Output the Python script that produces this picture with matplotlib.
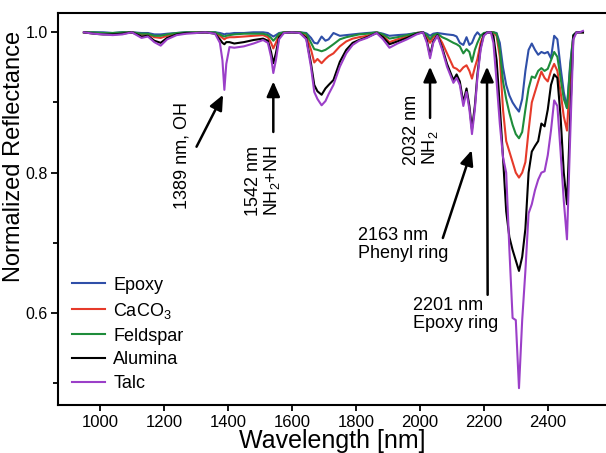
"""
NIR reflectance spectra of the epoxy composites (five fillers), normalised
to 1.0, with the main absorption bands annotated.
Output: out.png (606 x 453 px)
"""
import matplotlib
matplotlib.use("Agg")
import matplotlib.pyplot as plt
from matplotlib.ticker import MultipleLocator

# shared wavelength grid [nm]
wavelength = [
    950, 980, 1010, 1040, 1070, 1100, 1130, 1150, 1170, 1190,
    1210, 1240, 1270, 1300, 1330, 1360, 1375, 1383, 1389, 1395,
    1405, 1420, 1450, 1480, 1510, 1525, 1535, 1542, 1550, 1560,
    1575, 1600, 1625, 1645, 1660, 1670, 1680, 1693, 1705, 1715,
    1730, 1750, 1770, 1790, 1810, 1835, 1865, 1885, 1905, 1930,
    1960, 1990, 2010, 2022, 2032, 2042, 2055, 2070, 2085, 2105,
    2115, 2125, 2136, 2146, 2155, 2163, 2172, 2180, 2190, 2200,
    2212, 2222, 2230, 2240, 2250, 2260, 2270, 2280, 2290, 2300,
    2310, 2320, 2330, 2340, 2350, 2360, 2370, 2380, 2390, 2400,
    2410, 2420, 2430, 2440, 2450, 2460, 2470, 2480, 2490, 2500,
    2510,
]

epoxy = [
    1.000, 1.000, 1.000, 0.999, 1.000, 1.000, 0.999, 0.999, 0.997, 0.997,
    0.998, 0.999, 1.000, 1.000, 1.000, 1.000, 0.999, 0.998, 0.997, 0.998,
    0.998, 0.999, 0.999, 1.000, 1.000, 0.999, 0.996, 0.994, 0.996, 0.999,
    1.000, 1.000, 1.000, 0.999, 0.992, 0.985, 0.984, 0.994, 0.988, 0.990,
    0.999, 0.995, 0.996, 0.997, 0.998, 0.999, 1.000, 0.998, 0.995, 0.996,
    0.997, 0.999, 1.000, 0.998, 0.995, 0.998, 0.999, 0.998, 0.997, 0.996,
    0.994, 0.985, 0.982, 0.993, 0.982, 0.985, 0.995, 1.000, 0.995, 0.998,
    1.000, 1.000, 1.000, 0.999, 0.985, 0.950, 0.925, 0.910, 0.900, 0.893,
    0.887, 0.905, 0.945, 0.975, 0.984, 0.975, 0.968, 0.972, 0.970, 0.972,
    0.963, 0.995, 0.990, 0.950, 0.915, 0.892, 0.955, 0.996, 1.000, 1.000,
    1.000,
]

caco3 = [
    1.000, 0.999, 0.998, 0.998, 0.999, 1.000, 0.997, 0.997, 0.993, 0.992,
    0.995, 0.998, 0.999, 1.000, 1.000, 0.999, 0.995, 0.992, 0.990, 0.992,
    0.993, 0.993, 0.994, 0.995, 0.996, 0.993, 0.985, 0.977, 0.985, 0.996,
    1.000, 1.000, 1.000, 0.995, 0.975, 0.957, 0.962, 0.956, 0.962, 0.966,
    0.970, 0.980, 0.987, 0.991, 0.993, 0.995, 1.000, 0.995, 0.986, 0.990,
    0.994, 0.999, 1.000, 0.993, 0.985, 0.993, 0.997, 0.985, 0.970, 0.950,
    0.948, 0.944, 0.950, 0.953, 0.945, 0.934, 0.950, 0.962, 0.985, 0.997,
    1.000, 1.000, 1.000, 0.995, 0.965, 0.890, 0.845, 0.830, 0.815, 0.800,
    0.793, 0.800, 0.815, 0.860, 0.900, 0.915, 0.930, 0.944, 0.935, 0.930,
    0.945, 0.955, 0.945, 0.915, 0.880, 0.860, 0.940, 0.995, 1.000, 1.000,
    1.000,
]

feldspar = [
    1.000, 1.000, 0.999, 0.999, 1.000, 1.000, 0.998, 0.998, 0.995, 0.995,
    0.997, 0.999, 1.000, 1.000, 1.000, 1.000, 0.997, 0.995, 0.994, 0.995,
    0.996, 0.997, 0.998, 0.998, 0.998, 0.996, 0.992, 0.988, 0.992, 0.998,
    1.000, 1.000, 1.000, 0.998, 0.985, 0.976, 0.975, 0.973, 0.975, 0.978,
    0.983, 0.990, 0.993, 0.995, 0.997, 0.998, 1.000, 0.997, 0.991, 0.993,
    0.996, 0.999, 1.000, 0.996, 0.990, 0.996, 0.998, 0.993, 0.990, 0.985,
    0.983, 0.980, 0.970, 0.976, 0.972, 0.958, 0.975, 0.985, 0.995, 0.999,
    1.000, 1.000, 1.000, 0.998, 0.975, 0.930, 0.905, 0.885, 0.868, 0.855,
    0.849, 0.858, 0.890, 0.920, 0.937, 0.935, 0.945, 0.949, 0.945, 0.948,
    0.960, 0.972, 0.965, 0.935, 0.905, 0.892, 0.950, 0.996, 1.000, 1.000,
    1.000,
]

alumina = [
    1.000, 0.998, 0.997, 0.997, 0.998, 1.000, 0.994, 0.995, 0.988, 0.985,
    0.992, 0.997, 0.999, 0.999, 1.000, 0.998, 0.990, 0.985, 0.983, 0.986,
    0.986, 0.984, 0.986, 0.989, 0.991, 0.988, 0.972, 0.956, 0.970, 0.993,
    0.999, 1.000, 0.999, 0.992, 0.955, 0.925, 0.916, 0.911, 0.920, 0.925,
    0.932, 0.958, 0.975, 0.985, 0.989, 0.993, 0.999, 0.993, 0.983, 0.987,
    0.992, 0.998, 1.000, 0.988, 0.967, 0.987, 0.996, 0.978, 0.955, 0.932,
    0.940, 0.930, 0.900, 0.920, 0.895, 0.862, 0.895, 0.940, 0.978, 0.997,
    1.000, 1.000, 0.995, 0.960, 0.895, 0.822, 0.745, 0.708, 0.690, 0.675,
    0.660, 0.680, 0.720, 0.800, 0.830, 0.838, 0.845, 0.870, 0.866, 0.890,
    0.925, 0.940, 0.935, 0.880, 0.800, 0.755, 0.880, 0.995, 1.000, 1.000,
    1.000,
]

talc = [
    1.000, 0.998, 0.997, 0.996, 0.997, 1.000, 0.992, 0.994, 0.986, 0.981,
    0.990, 0.996, 0.998, 0.999, 1.000, 0.998, 0.985, 0.960, 0.918, 0.955,
    0.979, 0.978, 0.980, 0.984, 0.989, 0.985, 0.965, 0.942, 0.960, 0.990,
    0.999, 1.000, 0.999, 0.990, 0.950, 0.915, 0.905, 0.896, 0.902, 0.912,
    0.925, 0.951, 0.970, 0.982, 0.988, 0.992, 0.999, 0.990, 0.978, 0.984,
    0.990, 0.997, 1.000, 0.985, 0.963, 0.985, 0.995, 0.975, 0.951, 0.928,
    0.935, 0.925, 0.895, 0.915, 0.890, 0.855, 0.890, 0.935, 0.975, 0.995,
    1.000, 1.000, 0.985, 0.930, 0.870, 0.822, 0.800, 0.690, 0.593, 0.590,
    0.493, 0.590, 0.660, 0.742, 0.755, 0.775, 0.790, 0.800, 0.802, 0.825,
    0.860, 0.903, 0.895, 0.830, 0.760, 0.705, 0.850, 0.990, 1.000, 1.000,
    1.002,
]

SERIES = [
    ("Epoxy", epoxy, "#2f4fa8"),
    ("CaCO$_3$", caco3, "#e63a2a"),
    ("Feldspar", feldspar, "#1e8c3a"),
    ("Alumina", alumina, "#000000"),
    ("Talc", talc, "#9b3fc8"),
]

# (arrow head, arrow tail) in data units
ARROWS = [
    ((1385, 0.911), (1302, 0.837)),
    ((1542, 0.930), (1542, 0.858)),
    ((2032, 0.951), (2032, 0.878)),
    ((2162, 0.832), (2072, 0.707)),
    ((2210, 0.951), (2212, 0.626)),
]


def main():
    plt.rcParams.update({
        "font.family": ["Liberation Sans", "DejaVu Sans"],
        "mathtext.default": "regular",
        "font.size": 12,
    })
    fig = plt.figure(figsize=(6.06, 4.53), dpi=100)
    ax = fig.add_axes([57.7 / 606, 48 / 453, 548.3 / 606, 392 / 453])

    for label, vals, color in SERIES:
        ax.plot(wavelength, vals, color=color, lw=1.5, label=label)

    ax.set_xlim(868, 2582)
    ax.set_ylim(0.469, 1.0275)
    ax.set_xticks(range(1000, 2401, 200))
    ax.yaxis.set_major_locator(MultipleLocator(0.2))
    ax.yaxis.set_minor_locator(MultipleLocator(0.1))
    ax.yaxis.set_major_formatter(lambda v, p: f"{v:.1f}")
    ax.tick_params(axis="both", width=1.3, color="black")
    ax.tick_params(axis="x", length=4, pad=3, labelsize=12)
    ax.tick_params(axis="y", which="major", length=5, pad=2, labelsize=11.5)
    ax.tick_params(axis="y", which="minor", length=3.5, width=1.3)
    for side in ("left", "bottom", "top"):
        ax.spines[side].set_linewidth(1.5)
    ax.spines["right"].set_visible(False)

    ax.set_xlabel("Wavelength [nm]", fontsize=18)
    ax.set_ylabel("Normalized Reflectance", fontsize=17)
    ax.xaxis.set_label_coords(0.5, -0.06)
    ax.yaxis.set_label_coords(-0.059, 0.633)

    for head, tail in ARROWS:
        ax.annotate("", xy=head, xytext=tail,
                    arrowprops=dict(arrowstyle="-|>,head_length=0.5,head_width=0.22",
                                    color="black", lw=1.8, mutation_scale=18,
                                    shrinkA=0, shrinkB=0))

    fs = 13
    ax.text(1256, 0.824, "1389 nm, OH", rotation=90, ha="center", va="center",
            fontsize=fs)
    ax.text(1510, 0.788, "1542 nm\nNH$_2$+NH", rotation=90, ha="center",
            va="center", multialignment="center", fontsize=fs, linespacing=1.0)
    ax.text(2004, 0.811, "2032 nm\nNH$_2$", rotation=90, ha="center",
            va="bottom", multialignment="left", fontsize=fs, linespacing=1.0)
    ax.text(1808, 0.698, "2163 nm\nPhenyl ring", ha="left", va="center",
            fontsize=fs, linespacing=1.1)
    ax.text(1979, 0.623, "2201 nm\nEpoxy ring", ha="left", va="top",
            fontsize=fs, linespacing=1.1)

    ax.legend(loc="upper left", bbox_to_anchor=(0.0256, 0.327), frameon=False,
              fontsize=13, handlelength=1.85, handletextpad=0.45,
              labelspacing=0.38, borderpad=0, borderaxespad=0)

    fig.savefig("out.png", dpi=100)


if __name__ == "__main__":
    main()
